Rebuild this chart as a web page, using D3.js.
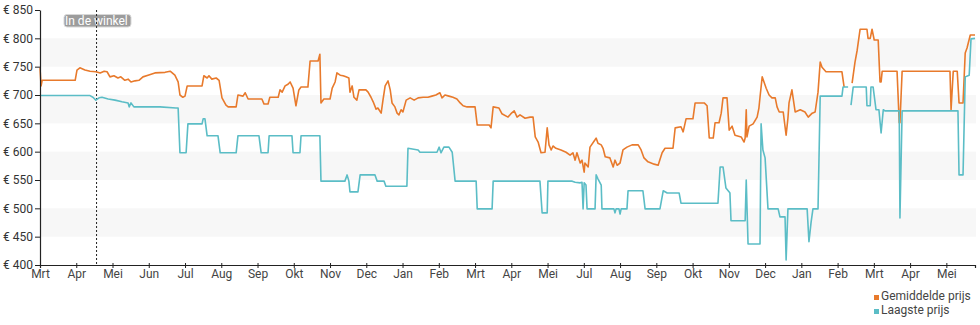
<!DOCTYPE html>
<html>
<head>
<meta charset="utf-8">
<script src="https://cdn.jsdelivr.net/npm/d3@7"></script>
<style>
  html, body { margin: 0; padding: 0; background: #fff; }
  svg { display: block; font-family: Roboto, "Noto Sans", sans-serif; }
</style>
</head>
<body>
<svg id="chart" width="980" height="325"></svg>
<script>
// Month tick labels (one per month tick, index = months since start)
const monthLabels = ["Mrt","Apr","Mei","Jun","Jul","Aug","Sep","Okt","Nov","Dec","Jan","Feb",
  "Mrt","Apr","Mei","Jul","Aug","Sep","Okt","Nov","Dec","Jan","Feb","Mrt","Apr","Mei"];
const priceTicks = [400, 450, 500, 550, 600, 650, 700, 750, 800, 850];
const shadedBands = [[750, 800], [650, 700], [550, 600], [450, 500]];
const storeMonth = 1.56;
const storeLabel = "In de winkel";
const seriesNames = ["Gemiddelde prijs", "Laagste prijs"];
const seriesColors = ["#e87a2c", "#5bbdc6"];

// [month, price in euro]; null marks a gap in the record
const averagePrice = [
  [0.00,748],[0.03,716],[0.06,726],[0.97,726],[1.02,744],[1.10,748],[1.24,744],[1.38,742],
  [1.54,741],[1.66,739],[1.77,742],[1.85,741],[1.93,732],[2.04,734],[2.15,730],[2.23,732],
  [2.34,726],[2.43,728],[2.51,723],[2.62,725],[2.73,726],[2.84,732],[2.98,735],[3.17,739],
  [3.45,740],[3.59,742],[3.72,735],[3.81,723],[3.86,700],[3.94,696],[4.00,698],[4.06,716],
  [4.47,716],[4.52,734],[4.61,730],[4.66,734],[4.74,728],[4.86,730],[4.94,726],[5.02,695],
  [5.13,682],[5.19,679],[5.41,679],[5.46,700],[5.60,698],[5.66,704],[5.74,693],[6.12,693],
  [6.18,684],[6.29,684],[6.34,696],[6.57,696],[6.62,709],[6.68,705],[6.76,716],[6.84,719],
  [6.90,723],[6.98,712],[7.06,681],[7.14,709],[7.20,714],[7.39,714],[7.45,760],[7.67,760],
  [7.72,772],[7.75,686],[7.83,693],[8.00,693],[8.06,712],[8.14,723],[8.19,739],[8.28,735],
  [8.36,734],[8.44,732],[8.52,730],[8.55,705],[8.61,716],[8.66,696],[8.74,691],[8.80,709],
  [8.99,709],[9.05,705],[9.13,696],[9.19,688],[9.27,675],[9.32,677],[9.41,668],[9.46,691],
  [9.52,716],[9.60,725],[9.66,709],[9.71,686],[9.79,679],[9.85,668],[9.90,665],[9.96,674],
  [10.01,670],[10.10,691],[10.21,695],[10.32,691],[10.43,695],[10.57,696],[10.70,696],[10.81,698],
  [10.92,700],[11.03,704],[11.09,695],[11.17,700],[11.28,698],[11.39,696],[11.50,693],[11.59,686],
  [11.67,681],[11.78,679],[12.00,679],[12.06,647],[12.39,647],[12.44,642],[12.50,679],[12.66,677],
  [12.74,667],[12.91,661],[12.99,667],[13.08,672],[13.16,661],[13.24,665],[13.38,659],[13.52,661],
  [13.60,661],[13.66,626],[13.74,617],[13.82,598],[13.93,599],[13.99,642],[14.04,612],[14.10,603],
  [14.15,610],[14.23,606],[14.37,603],[14.51,599],[14.62,594],[14.70,598],[14.76,585],[14.81,598],
  [14.90,580],[14.95,585],[15.01,564],[15.03,580],[15.12,573],[15.17,608],[15.31,621],[15.34,624],
  [15.39,615],[15.48,612],[15.53,606],[15.59,591],[15.72,589],[15.81,573],[15.86,585],[15.92,576],
  [16.00,580],[16.08,603],[16.19,608],[16.33,612],[16.50,612],[16.58,603],[16.66,589],[16.77,582],
  [16.94,578],[17.05,576],[17.16,598],[17.24,606],[17.46,606],[17.52,642],[17.68,644],[17.74,635],
  [17.82,658],[18.01,658],[18.07,686],[18.32,686],[18.40,681],[18.46,624],[18.57,624],[18.62,651],
  [18.73,651],[18.79,668],[18.84,695],[18.95,695],[19.01,638],[19.09,645],[19.17,629],[19.34,626],
  [19.42,617],[19.45,624],[19.48,674],[19.50,626],[19.56,645],[19.67,649],[19.78,661],[19.83,677],
  [19.86,696],[19.92,732],[19.97,723],[20.03,712],[20.11,700],[20.19,695],[20.28,695],[20.33,679],
  [20.39,670],[20.50,670],[20.58,629],[20.63,659],[20.66,686],[20.74,709],[20.83,670],[20.97,674],
  [21.10,670],[21.19,661],[21.30,668],[21.38,670],[21.46,705],[21.52,758],[21.57,749],[21.68,741],
  [22.12,741],[22.18,714],[22.30,null],
  [22.40,721],[22.48,758],[22.54,779],[22.62,816],[22.81,816],[22.84,800],[22.90,800],[22.95,816],
  [23.01,797],[23.12,797],[23.17,723],[23.20,723],[23.23,742],[23.64,742],[23.70,651],[23.72,651],
  [23.78,742],[25.10,742],[25.13,674],[25.19,742],[25.30,742],[25.35,686],[25.46,686],[25.52,774],
  [25.57,783],[25.66,806],[25.79,806]
];

const lowestPrice = [
  [0.00,699],[1.38,699],[1.46,696],[1.54,691],[1.63,695],[1.71,696],[1.88,693],[2.07,691],
  [2.26,688],[2.43,686],[2.46,679],[2.51,686],[2.59,679],[3.31,679],[3.75,677],[3.81,677],
  [3.86,598],[4.03,598],[4.08,649],[4.47,649],[4.50,658],[4.55,658],[4.61,628],[4.91,628],
  [4.97,598],[5.41,598],[5.46,628],[6.04,628],[6.10,598],[6.29,598],[6.32,628],[6.95,628],
  [6.98,598],[7.17,598],[7.20,628],[7.72,628],[7.75,548],[8.41,548],[8.47,559],[8.52,548],
  [8.55,529],[8.77,529],[8.83,559],[9.24,559],[9.30,548],[9.49,548],[9.54,539],[10.12,539],
  [10.15,606],[10.43,603],[10.48,599],[10.95,599],[11.01,608],[11.06,598],[11.14,608],[11.28,608],
  [11.37,599],[11.45,548],[12.03,548],[12.06,499],[12.47,499],[12.50,548],[13.79,548],[13.85,492],
  [13.99,492],[14.01,548],[14.68,548],[14.76,546],[14.90,545],[14.95,546],[14.98,499],[15.01,545],
  [15.06,541],[15.09,499],[15.31,499],[15.34,559],[15.39,552],[15.48,541],[15.50,499],[15.83,499],
  [15.86,492],[15.89,499],[15.97,499],[16.00,490],[16.03,499],[16.19,499],[16.22,531],[16.63,531],
  [16.69,499],[17.10,499],[17.19,531],[17.30,527],[17.63,527],[17.68,509],[18.70,509],[18.76,573],
  [18.84,573],[18.92,536],[19.01,529],[19.03,527],[19.06,478],[19.45,478],[19.48,550],[19.53,437],
  [19.86,437],[19.89,649],[19.94,603],[20.00,589],[20.08,499],[20.36,499],[20.41,485],[20.55,485],
  [20.58,409],[20.63,499],[21.16,499],[21.21,441],[21.27,476],[21.32,499],[21.46,499],[21.52,698],
  [22.12,698],[22.15,714],[22.29,714],[22.33,null],
  [22.37,682],[22.43,714],[22.79,714],[22.81,681],[22.90,681],[22.92,714],[22.98,714],[23.06,674],
  [23.14,674],[23.20,633],[23.26,674],[23.31,672],[23.70,672],[23.72,483],[23.78,672],[25.32,672],
  [25.35,559],[25.46,559],[25.52,732],[25.63,735],[25.68,799],[25.79,800]
];

const svg = d3.select("#chart");
const x = d3.scaleLinear().domain([0, 25.79]).range([40, 975]);
const y = d3.scaleLinear().domain([400, 850]).range([265, 10]);

// alternating background bands
svg.append("g").selectAll("rect")
  .data(shadedBands)
  .join("rect")
  .attr("x", x(0) + 1)
  .attr("width", x(25.79) - x(0))
  .attr("y", d => y(d[1]))
  .attr("height", d => y(d[0]) - y(d[1]))
  .attr("fill", "#f7f7f7");

// store-availability label and marker
const storeG = svg.append("g");
storeG.append("rect")
  .attr("x", 64).attr("y", 14.5).attr("width", 67).attr("height", 12.5)
  .attr("rx", 3).attr("fill", "#9c9c9c").attr("stroke", "#d8d8d8").attr("stroke-width", 1);
storeG.append("text")
  .attr("x", 65).attr("y", 25)
  .attr("fill", "#fff").attr("font-size", 12)
  .text(storeLabel);
storeG.append("line")
  .attr("x1", x(storeMonth)).attr("x2", x(storeMonth))
  .attr("y1", y(850)).attr("y2", y(400))
  .attr("stroke", "#222").attr("stroke-width", 1).attr("stroke-dasharray", "2,2");

// price lines
const line = d3.line()
  .defined(d => d[1] !== null)
  .x(d => x(d[0]))
  .y(d => y(d[1]));

[averagePrice, lowestPrice].forEach((series, i) => {
  svg.append("path")
    .datum(series)
    .attr("fill", "none")
    .attr("stroke", seriesColors[i])
    .attr("stroke-width", 1.6)
    .attr("stroke-linejoin", "round")
    .attr("d", line);
});

// y axis
const yAxis = svg.append("g")
  .attr("transform", `translate(${x(0)},0)`)
  .call(d3.axisLeft(y).tickValues(priceTicks).tickFormat(d => "€ " + d).tickSize(5).tickSizeOuter(0).tickPadding(2));
yAxis.select(".domain").attr("stroke", "#222").attr("stroke-width", 1.2);
yAxis.selectAll(".tick line").attr("stroke", "#222");
yAxis.selectAll("text").attr("font-size", 12).attr("fill", "#333").attr("font-family", "Roboto, sans-serif");

// x axis
const xAxis = svg.append("g")
  .attr("transform", `translate(0,${y(400)})`)
  .call(d3.axisBottom(x).tickValues(d3.range(monthLabels.length)).tickFormat(i => monthLabels[i]).tickSizeOuter(0).tickSize(3).tickPadding(1));
xAxis.select(".domain").attr("stroke", "#222").attr("stroke-width", 1.2);
xAxis.selectAll(".tick line").attr("stroke", "#222").attr("y1", -2);
xAxis.selectAll("text").attr("font-size", 12).attr("fill", "#444").attr("font-family", "Roboto, sans-serif");

// legend
const legend = svg.append("g").selectAll("g")
  .data(seriesNames)
  .join("g")
  .attr("transform", (d, i) => `translate(874,${300 + i * 14})`);
legend.append("rect")
  .attr("x", 0).attr("y", -5).attr("width", 5).attr("height", 5)
  .attr("fill", (d, i) => seriesColors[i]);
legend.append("text")
  .attr("x", 7).attr("y", 0)
  .attr("font-size", 12).attr("fill", "#444")
  .text(d => d);
</script>
</body>
</html>
